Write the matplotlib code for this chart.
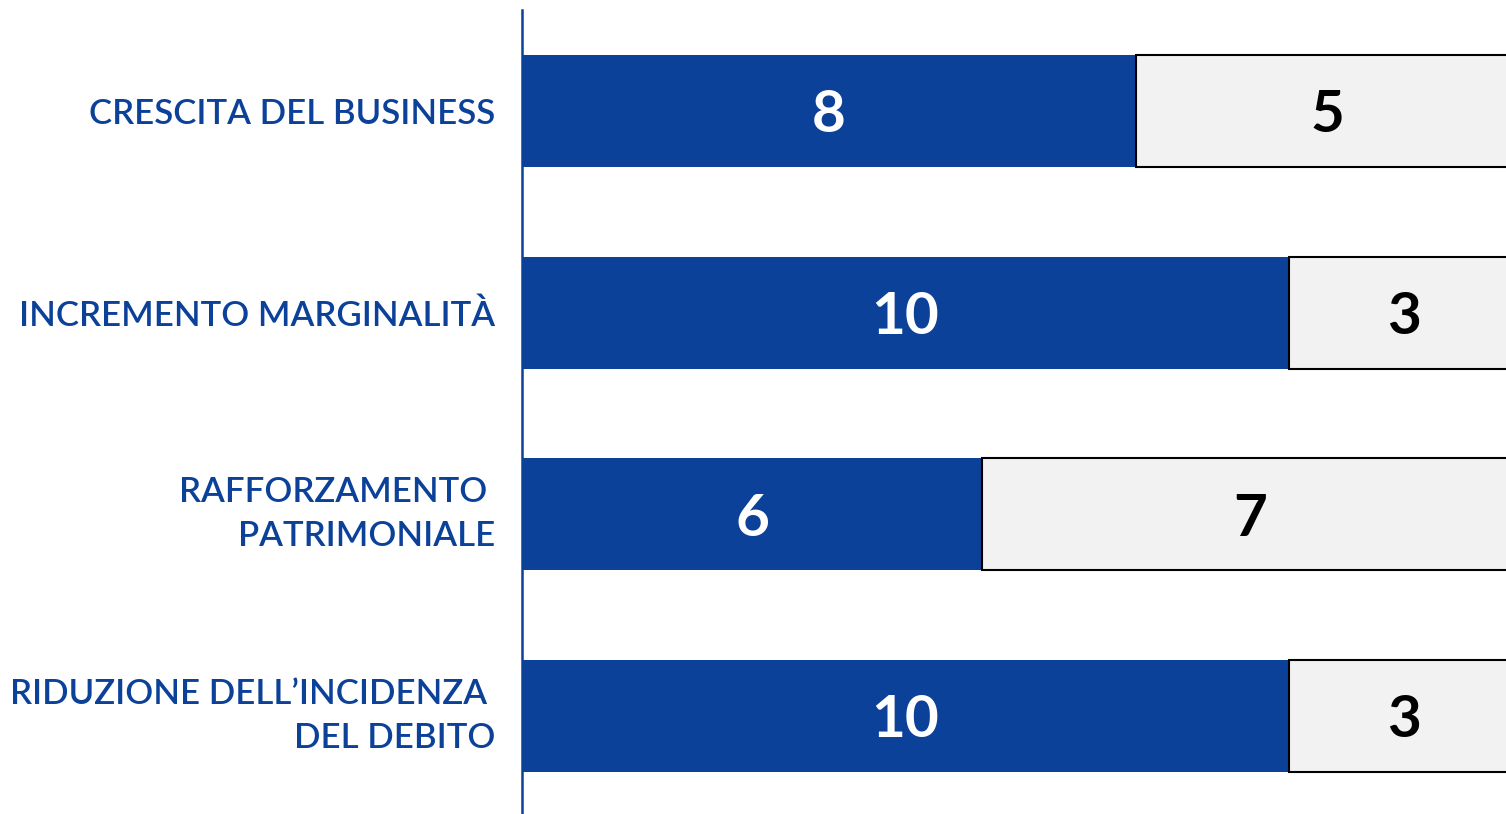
import matplotlib.pyplot as plt

# Survey results: blue = first answer, grey = remaining answers
categories = [
    "CRESCITA DEL BUSINESS",
    "INCREMENTO MARGINALITÀ",
    "RAFFORZAMENTO \nPATRIMONIALE",
    "RIDUZIONE DELL’INCIDENZA \nDEL DEBITO",
]
blue_values = [8, 10, 6, 10]
grey_values = [5, 3, 7, 3]

BLUE = "#0C419A"
GREY = "#F2F2F2"

plt.rcParams['font.family'] = ['Lato', 'DejaVu Sans']

fig = plt.figure(figsize=(15.06, 8.14), dpi=100)
ax = fig.add_axes([522 / 1506, 0, 1 - 522 / 1506, 804 / 814])

pos = list(range(len(categories)))
bar_h = 0.555

ax.barh(pos, blue_values, height=bar_h, color=BLUE, edgecolor='none', zorder=2)
ax.barh(pos, grey_values, left=blue_values, height=bar_h, color=GREY,
        edgecolor='black', linewidth=1.5, zorder=2)

for y, b, g in zip(pos, blue_values, grey_values):
    ax.text(b / 2, y, str(b), ha='center', va='center_baseline',
            color='white', fontsize=42, fontweight='bold', zorder=3)
    ax.text(b + g / 2, y, str(g), ha='center', va='center_baseline',
            color='black', fontsize=42, fontweight='bold', zorder=3)

ax.set_xlim(0, 12.83)
ax.set_ylim(3.486, -0.5)

ax.set_yticks(pos)
ax.set_yticklabels(categories, color=BLUE, fontsize=25, linespacing=1.45,
                   fontweight='semibold', ha='right', multialignment='right')
# two-line labels look better centred on their whole block
for lbl in ax.get_yticklabels():
    if '\n' in lbl.get_text():
        lbl.set_va('center')
ax.tick_params(axis='y', length=0, pad=19)
ax.set_xticks([])

for side in ['top', 'right', 'bottom']:
    ax.spines[side].set_visible(False)
ax.spines['left'].set_color(BLUE)
ax.spines['left'].set_linewidth(1.8)

fig.savefig('out.png', dpi=100)
